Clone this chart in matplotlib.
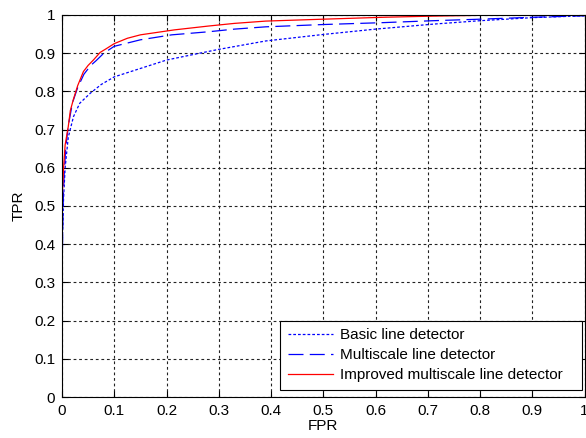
import matplotlib
matplotlib.use("Agg")
import matplotlib.pyplot as plt

# Data
basic_fpr = [0, 0.001, 0.003, 0.006, 0.012, 0.022, 0.034, 0.054, 0.075, 0.1, 0.15, 0.2,
             0.26, 0.3, 0.39, 0.5, 0.6, 0.71, 0.8, 0.9, 1.0]
basic_tpr = [0.35, 0.42, 0.52, 0.6, 0.68, 0.734, 0.769, 0.795, 0.818, 0.838, 0.86, 0.882,
             0.899, 0.91, 0.932, 0.949, 0.963, 0.976, 0.985, 0.993, 0.998]

multi_fpr = [0, 0.001, 0.002, 0.004, 0.007, 0.012, 0.02, 0.03, 0.042, 0.055, 0.065, 0.08,
             0.1, 0.15, 0.21, 0.28, 0.33, 0.39, 0.5, 0.615, 0.71, 0.8, 0.9, 1.0]
multi_tpr = [0.33, 0.4, 0.5, 0.58, 0.65, 0.71, 0.77, 0.81, 0.845, 0.868, 0.88, 0.9,
             0.918, 0.935, 0.948, 0.956, 0.963, 0.969, 0.975, 0.98, 0.985, 0.989, 0.994, 0.998]

impr_fpr = [0, 0, 0.001, 0.003, 0.006, 0.012, 0.016, 0.022, 0.03, 0.041, 0.05, 0.06, 0.073,
            0.085, 0.1, 0.125, 0.15, 0.19, 0.215, 0.28, 0.33, 0.39, 0.5, 0.615, 0.71, 0.84, 1.0]
impr_tpr = [0, 0.45, 0.54, 0.6, 0.66, 0.708, 0.75, 0.78, 0.815, 0.852, 0.868, 0.882, 0.902,
            0.912, 0.925, 0.939, 0.948, 0.956, 0.961, 0.971, 0.978, 0.984, 0.989, 0.994, 0.997, 1.0, 1.0]

labels = ["Basic line detector", "Multiscale line detector", "Improved multiscale line detector"]
ticks = [0, 0.1, 0.2, 0.3, 0.4, 0.5, 0.6, 0.7, 0.8, 0.9, 1]
tick_labels = ["0", "0.1", "0.2", "0.3", "0.4", "0.5", "0.6", "0.7", "0.8", "0.9", "1"]

plt.rcParams['font.family'] = ['Liberation Sans', 'DejaVu Sans']
plt.rcParams['font.size'] = 11

fig = plt.figure(figsize=(5.86, 4.38), dpi=100)
ax = fig.add_axes([0.1058, 0.0936, 0.8917, 0.8722])

ax.plot(basic_fpr, basic_tpr, color='b', lw=0.9, dashes=(2.2, 1.6), label=labels[0])
ax.plot(multi_fpr, multi_tpr, color='b', lw=0.9, dashes=(12, 5), label=labels[1])
ax.plot(impr_fpr, impr_tpr, color='r', lw=0.9, label=labels[2])

ax.set_xlim(0, 1)
ax.set_ylim(0, 1)
ax.set_xticks(ticks)
ax.set_xticklabels(tick_labels)
ax.set_yticks(ticks)
ax.set_yticklabels(tick_labels)
ax.tick_params(direction='in', length=4, width=0.8, top=True, right=True,
               labelsize=11, colors='black', pad=5)
ax.grid(True, color='#222222', linestyle=(0, (2.5, 2.5)), linewidth=0.8)
for s in ax.spines.values():
    s.set_linewidth(0.8)
    s.set_color('black')

ax.set_xlabel("FPR", fontsize=11, labelpad=1)
ax.set_ylabel("TPR", fontsize=11, labelpad=6)

leg = ax.legend(loc='lower right', bbox_to_anchor=(0.417, 0.018, 0.578, 0.178),
                mode='expand', fontsize=11,
                handlelength=3.0, fancybox=False, framealpha=1, edgecolor='black',
                borderaxespad=0.0, labelspacing=0.4, borderpad=0.5, handletextpad=0.45)
leg.get_frame().set_linewidth(0.8)

fig.savefig("out.png", dpi=100)
